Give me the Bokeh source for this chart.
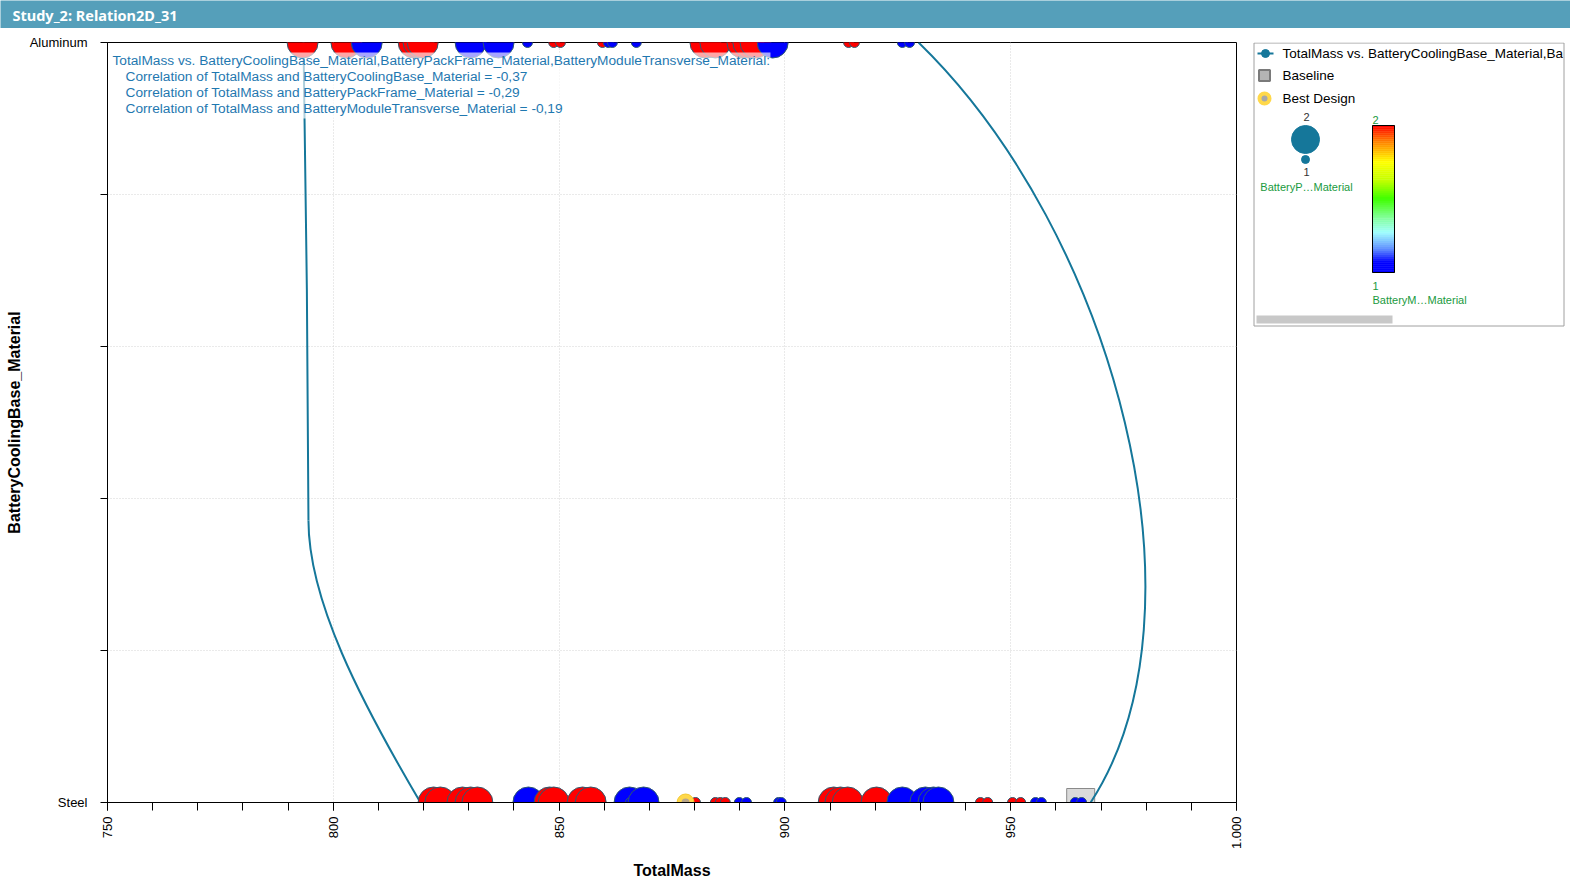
import math
from bokeh.plotting import figure
from bokeh.layouts import column, row
from bokeh.models import FixedTicker, SingleIntervalTicker, Range1d
from bokeh.core.properties import value
from bokeh.embed import file_html
from bokeh.resources import INLINE

# ---------------- data ----------------
# BatteryCoolingBase_Material: 1 = Steel, 2 = Aluminum
# BatteryPackFrame_Material -> marker size (1 small, 2 large)
# BatteryModuleTransverse_Material -> colour (1 blue, 2 red)
steel_mass = [822.2, 823.7, 828.6, 830.4, 831.9, 843.2, 847.9, 848.8, 855.2, 857.0,
              865.6, 865.8, 868.7, 880.2, 884.6, 885.7, 886.8, 889.9, 891.5, 898.6,
              899.2, 910.8, 912.3, 913.9, 920.3, 926.0, 931.1, 932.9, 934.0, 943.3,
              944.9, 950.4, 952.2, 955.5, 956.8, 964.3, 965.7]
steel_pack = [2, 2, 2, 2, 2, 2, 2, 2, 2, 2,
              2, 1, 2, 1, 1, 1, 1, 1, 1, 1,
              1, 2, 2, 2, 2, 2, 2, 2, 2, 1,
              1, 1, 1, 1, 1, 1, 1]
steel_module = [2, 2, 2, 2, 2, 1, 2, 2, 2, 2,
                1, 1, 1, 2, 2, 2, 2, 1, 1, 1,
                1, 2, 2, 2, 2, 1, 1, 1, 1, 2,
                2, 2, 2, 1, 1, 1, 1]

alu_mass = [793.2, 802.9, 807.4, 817.8, 818.9, 819.8, 830.4, 836.6, 843.0, 848.8,
            850.3, 859.6, 860.9, 861.8, 867.1, 882.4, 884.6, 890.6, 891.9, 893.5,
            897.3, 914.1, 915.4, 926.0, 927.6]
alu_pack = [2, 2, 2, 2, 2, 2, 2, 2, 1, 1,
            1, 1, 1, 1, 1, 2, 2, 2, 2, 2,
            2, 1, 1, 1, 1]
alu_module = [2, 2, 1, 2, 2, 2, 1, 1, 1, 2,
              2, 2, 1, 1, 1, 2, 2, 2, 2, 2,
              1, 2, 2, 1, 1]

baseline_mass = [965.5]
baseline_cooling = [1]
best_mass = [878.0]
best_cooling = [1]

# spline of the series line (cubic bezier segments: start, end, two control points)
curve_x0 = [929.6, 819.3, 794.5]
curve_y0 = [2.0, 1.0, 1.371]
curve_x1 = [967.7, 794.5, 793.4]
curve_y1 = [1.0, 1.371, 2.0]
curve_cx0 = [973.1, 806.0, 794.5]
curve_cy0 = [1.749, 1.134, 1.529]
curve_cx1 = [995.2, 794.5, 793.85]
curve_cy1 = [1.251, 1.266, 1.858]

x_tick_overrides = {1000: "1.000"}
y_tick_labels = {1: "Steel", 2: "Aluminum"}

annotation_lines = [
    "TotalMass vs. BatteryCoolingBase_Material,BatteryPackFrame_Material,BatteryModuleTransverse_Material:",
    "Correlation of TotalMass and BatteryCoolingBase_Material = -0,37",
    "Correlation of TotalMass and BatteryPackFrame_Material = -0,29",
    "Correlation of TotalMass and BatteryModuleTransverse_Material = -0,19",
]

# ---------------- styles ----------------
SERIES = "#15779a"
RED = "#ff0000"
BLUE = "#0000ff"
EDGE = "#2e5a6e"
TXT = "#1f78b0"
GREEN = "#1a9a40"
FONT = "Liberation Sans"

size_of = {1: 10, 2: 31}
color_of = {1: BLUE, 2: RED}

# ---------------- title bar ----------------
t = figure(width=1570, height=28, x_range=Range1d(0, 1570), y_range=Range1d(0, 28),
           output_backend="svg", toolbar_location=None, x_axis_type=None, y_axis_type=None,
           min_border=0, background_fill_color="#559fba", border_fill_color="#559fba")
t.outline_line_color = None
t.text(x=[12], y=[14], text=["Study_2: Relation2D_31"], text_color="white",
       text_font=value("Noto Sans"), text_font_style="bold", text_font_size="14.5px",
       text_baseline="middle", text_align="left")

# ---------------- main plot ----------------
p = figure(width=1250, height=857, x_range=Range1d(750, 1000), y_range=Range1d(1, 2),
           output_backend="svg", toolbar_location=None,
           min_border_left=107, min_border_right=14, min_border_top=14, min_border_bottom=83,
           background_fill_color="white", border_fill_color="white")
p.outline_line_color = "black"
p.outline_line_width = 1

xa = p.xaxis[0]
xa.ticker = SingleIntervalTicker(interval=50, num_minor_ticks=5)
xa.major_label_orientation = math.pi / 2
xa.major_label_overrides = x_tick_overrides
xa.major_tick_in = 0
xa.major_tick_out = 8
xa.minor_tick_in = 0
xa.minor_tick_out = 8
xa.minor_tick_line_color = "black"
xa.major_label_text_font = FONT
xa.major_label_text_font_size = "13px"
xa.major_label_text_color = "black"
xa.major_label_standoff = 6
xa.axis_label = "TotalMass"
xa.axis_label_text_font = FONT
xa.axis_label_text_font_style = "bold"
xa.axis_label_text_font_size = "16px"
xa.axis_label_text_color = "black"
xa.axis_label_standoff = 10

ya = p.yaxis[0]
ya.ticker = FixedTicker(ticks=[1, 2], minor_ticks=[1.2, 1.4, 1.6, 1.8])
ya.major_label_overrides = y_tick_labels
ya.major_tick_in = 0
ya.major_tick_out = 7
ya.minor_tick_in = 0
ya.minor_tick_out = 7
ya.minor_tick_line_color = "black"
ya.major_label_text_font = FONT
ya.major_label_text_font_size = "13px"
ya.major_label_text_color = "black"
ya.major_label_standoff = 13
ya.axis_label = "BatteryCoolingBase_Material"
ya.axis_label_text_font = FONT
ya.axis_label_text_font_style = "bold"
ya.axis_label_text_font_size = "16px"
ya.axis_label_text_color = "black"
ya.axis_label_standoff = 4

p.xgrid.grid_line_color = "#d4d4d4"
p.xgrid.grid_line_dash = "1 2"
p.ygrid.ticker = FixedTicker(ticks=[1.2, 1.4, 1.6, 1.8])
p.ygrid.grid_line_color = "#d4d4d4"
p.ygrid.grid_line_dash = "1 2"

# baseline (square)
p.scatter(x=baseline_mass, y=baseline_cooling, marker="square", size=28,
          fill_color="#dadada", line_color="#8a8a8a", line_width=1)

# series spline
p.bezier(x0=curve_x0, y0=curve_y0, x1=curve_x1, y1=curve_y1,
         cx0=curve_cx0, cy0=curve_cy0, cx1=curve_cx1, cy1=curve_cy1,
         line_color=SERIES, line_width=2)

# design points
for mass, pack, module, cb in ((steel_mass, steel_pack, steel_module, 1),
                               (alu_mass, alu_pack, alu_module, 2)):
    p.scatter(x=mass, y=[cb] * len(mass), marker="circle",
              size=[size_of[v] for v in pack],
              fill_color=[color_of[v] for v in module],
              line_color=EDGE, line_width=1)

# best design
p.scatter(x=best_mass, y=best_cooling, marker="circle", size=17,
          fill_color="#ffd84a", line_color="#f2c832", line_width=1)
p.scatter(x=best_mass, y=best_cooling, marker="circle", size=8,
          fill_color="#b0a090", line_color=None, fill_alpha=0.9)

# annotation with translucent background
p.quad(left=[750.2], right=[896.8], top=[1.9868], bottom=[1.90],
       fill_color="white", fill_alpha=0.65, line_color=None)
ann_x = [751.1, 753.99, 753.99, 753.99]
ann_y = [1.9763, 1.9553, 1.9342, 1.9132]
p.text(x=ann_x, y=ann_y, text=annotation_lines, text_font=value(FONT),
       text_font_size="13.7px", text_color=TXT, text_baseline="middle", text_align="left")

# ---------------- legend panel (page pixel coordinates) ----------------
# its frame is aligned with the main plot's frame (rows 42..802), columns 1250..1570
q = figure(width=320, height=857, x_range=Range1d(1250, 1570), y_range=Range1d(802, 42),
           output_backend="svg", toolbar_location=None, x_axis_type=None, y_axis_type=None,
           min_border=0, background_fill_color="white", border_fill_color="white")
q.outline_line_color = None

# series entry
q.line(x=[1257, 1273], y=[53, 53], line_color=SERIES, line_width=2)
q.scatter(x=[1265], y=[53], marker="circle", size=8, fill_color=SERIES, line_color=SERIES)
# baseline entry
q.scatter(x=[1264], y=[75], marker="square", size=11, fill_color="#b4b4b4",
          line_color="#7a7a7a", line_width=2)
# best design entry
q.scatter(x=[1264], y=[98], marker="circle", size=14, fill_color="#ffd84a", line_color=None)
q.scatter(x=[1264], y=[98], marker="circle", size=6, fill_color="#a8a8a8", line_color=None)

q.text(x=[1282, 1282, 1282], y=[53, 75, 98],
       text=["TotalMass vs. BatteryCoolingBase_Material,Ba", "Baseline", "Best Design"],
       text_font=value(FONT), text_font_size="13.5px", text_color="black",
       text_baseline="middle", text_align="left")

# size legend
q.scatter(x=[1305, 1305], y=[139, 159], marker="circle", size=[28, 8],
          fill_color=SERIES, line_color=SERIES)
q.text(x=[1306, 1306], y=[116, 171], text=["2", "1"], text_font=value(FONT),
       text_font_size="11px", text_color="#333333", text_baseline="middle", text_align="center")
q.text(x=[1306], y=[186], text=["BatteryP\u2026Material"], text_font=value(FONT),
       text_font_size="11px", text_color=GREEN, text_baseline="middle", text_align="center")

# colour bar
stops = [(0.00, (255, 0, 0)), (0.11, (255, 128, 0)), (0.25, (255, 255, 0)),
         (0.38, (192, 255, 0)), (0.50, (64, 255, 0)), (0.62, (128, 255, 144)),
         (0.73, (160, 255, 255)), (0.84, (96, 144, 255)), (0.93, (0, 0, 255)),
         (1.00, (0, 0, 255))]
n = 74
top_y, bot_y = 125.0, 272.0
tops, bots, cols = [], [], []
for i in range(n):
    f = (i + 0.5) / n
    for (f0, c0), (f1, c1) in zip(stops[:-1], stops[1:]):
        if f0 <= f <= f1:
            w = (f - f0) / (f1 - f0) if f1 > f0 else 0
            c = tuple(int(round(a + (b - a) * w)) for a, b in zip(c0, c1))
            break
    tops.append(top_y + (bot_y - top_y) * i / n)
    bots.append(top_y + (bot_y - top_y) * (i + 1) / n)
    cols.append("#%02x%02x%02x" % c)
q.quad(left=[1372] * n, right=[1394] * n, top=tops, bottom=bots, fill_color=cols,
       line_color=cols, line_width=0.5)
q.quad(left=[1372], right=[1394], top=[top_y], bottom=[bot_y], fill_color=None,
       line_color="black", line_width=1)
q.text(x=[1372, 1372, 1372], y=[119, 285, 299], text=["2", "1", "BatteryM\u2026Material"],
       text_font=value(FONT), text_font_size="11px", text_color=GREEN,
       text_baseline="middle", text_align="left")

# scrollbar
q.quad(left=[1256], right=[1392], top=[315], bottom=[323], fill_color="#c8c8c8", line_color=None)
# legend frame
q.quad(left=[1253.5], right=[1563.5], top=[42.5], bottom=[325.5], fill_color=None,
       line_color="#a0a0a0", line_width=1)

layout = column(t, row(p, q, spacing=0), spacing=0)
open("out.html", "w").write(file_html(layout, INLINE))
